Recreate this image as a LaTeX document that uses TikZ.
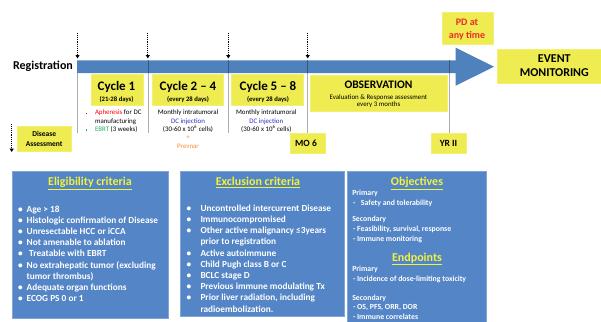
\documentclass[tikz,border=0pt]{standalone}
\usepackage{fontspec}
\setmainfont{Carlito}
\usetikzlibrary{arrows.meta}
\definecolor{barblue}{RGB}{79,129,189}
\definecolor{panelblue}{RGB}{84,133,198}
\definecolor{paneledge}{RGB}{130,165,215}
\definecolor{yel}{RGB}{238,236,80}
\definecolor{titleyel}{RGB}{242,242,60}
\definecolor{pdred}{RGB}{240,40,40}
\definecolor{dcblue}{RGB}{45,45,200}
\definecolor{ebrtgreen}{RGB}{40,175,90}
\definecolor{prevorange}{RGB}{245,140,60}
\newcommand\fs[2]{\fontsize{#1}{#2}\selectfont}
\newcommand\mytab[2]{\begin{tabular}[t]{@{}#1@{}}#2\end{tabular}}
\newcommand\bla{\makebox[8.7pt][l]{•}}
\newcommand\blb{\makebox[14pt][l]{•}}
\newcommand\sqb[1]{\textcolor{#1}{\rule[0.6pt]{1.6pt}{1.6pt}}}
\begin{document}
\begin{tikzpicture}[x=1pt,y=-1pt,
  ybox/.style={fill=yel, draw=yel!80!white, line width=0.4pt, inner sep=0pt, outer sep=0pt, anchor=north west},
  pbox/.style={fill=panelblue, draw=paneledge, line width=0.7pt, inner sep=0pt, outer sep=0pt, anchor=north west},
  txt/.style={inner sep=0pt, outer sep=0pt, anchor=base},
  dotarrow/.style={densely dotted, line width=0.9pt, -{Triangle[length=3.5pt,width=4pt]}},
  vline/.style={draw=black, draw opacity=0.32, line width=0.6pt},
  ttl/.style={txt, text=titleyel, font=\bfseries\fs{12}{14}},
  ptxt/.style={txt, anchor=base west, text=white, font=\bfseries\fs{7.8}{9.7}}
  ]
\clip (0,0) rectangle (601,321);
\fill[white] (0,0) rectangle (601,321);

% timeline bar with arrow head
\fill[barblue] (77,60.3) -- (455.7,60.3) -- (455.7,47.7) -- (494,66.7) -- (455.7,85.7) -- (455.7,73) -- (77,73) -- cycle;

% yellow boxes
\node[ybox, minimum width=52pt, minimum height=31pt] (c1box) at (91,74) {};
\node[ybox, minimum width=71pt, minimum height=31pt] (c2box) at (152,74) {};
\node[ybox, minimum width=72pt, minimum height=31pt] (c5box) at (231,74) {};
\node[ybox, minimum width=137pt, minimum height=36pt] (obsbox) at (310,75) {};
\node[ybox, minimum width=35pt, minimum height=20pt] (mo6) at (290,133) {};
\node[ybox, minimum width=35pt, minimum height=20pt] (yr2) at (431,133) {};
\node[ybox, minimum width=51pt, minimum height=32pt] (pdbox) at (441.7,12.3) {};
\node[ybox, minimum width=110pt, minimum height=34pt] (evbox) at (497,49) {};
\node[ybox, minimum width=54pt, minimum height=25pt] (disbox) at (17.3,125.7) {};

% vertical guide lines
\coordinate (g1a) at (77.5,73); \coordinate (g1b) at (77.5,133);
\coordinate (g2a) at (147.8,60.3); \coordinate (g2b) at (147.8,133);
\coordinate (g3a) at (228.3,60.3); \coordinate (g3b) at (228.3,133);
\coordinate (g4a) at (307.7,60.3);
\coordinate (g5a) at (449,60.3);
\draw[vline] (g1a) -- (g1b);
\draw[vline] (g2a) -- (g2b);
\draw[vline] (g3a) -- (g3b);
\draw[vline] (g4a) -- (g4a |- mo6.north);
\draw[vline] (g5a) -- (g5a |- yr2.north);

% dotted arrows
\coordinate (d1a) at (77.5,33); \coordinate (d1b) at (77.5,58.5);
\coordinate (d2a) at (147.8,33); \coordinate (d2b) at (147.8,58.5);
\coordinate (d3a) at (228.3,33); \coordinate (d3b) at (228.3,58.5);
\coordinate (d4a) at (307.7,33); \coordinate (d4b) at (307.7,58.5);
\coordinate (d5a) at (11.7,124); \coordinate (d5b) at (11.7,152);
\draw[dotarrow] (d1a) -- (d1b);
\draw[dotarrow] (d2a) -- (d2b);
\draw[dotarrow] (d3a) -- (d3b);
\draw[dotarrow] (d4a) -- (d4b);
\draw[dotarrow] (d5a) -- (d5b);

% timeline texts
\node[txt, font=\bfseries\fs{12}{14}] (reg) at (43,69.6) {Registration};
\node[txt, font=\bfseries\fs{13}{15}] (c1t) at (116.5,90) {Cycle 1};
\node[txt, font=\bfseries\fs{6.7}{8}] (c1d) at (116.5,101.3) {(21-28 days)};
\node[txt, font=\bfseries\fs{13}{15}] (c2t) at (188,90) {Cycle 2 -- 4};
\node[txt, font=\bfseries\fs{6.7}{8}] (c2d) at (188,101.3) {(every 28 days)};
\node[txt, font=\bfseries\fs{13}{15}] (c5t) at (268,90) {Cycle 5 -- 8};
\node[txt, font=\bfseries\fs{6.7}{8}] (c5d) at (268,101.3) {(every 28 days)};

\node[txt, anchor=base west, font=\fs{6.9}{8.3}] (c1l) at (85.8,114.8)
  {\mytab{l}{\makebox[9.2pt][l]{\sqb{red}}\textcolor{red}{Apheresis} for DC\\
   \makebox[9.2pt][l]{}manufacturing\\
   \makebox[9.2pt][l]{\sqb{ebrtgreen}}\textcolor{ebrtgreen}{EBRT} (3 weeks)}};
\node[txt, font=\fs{6.9}{8.2}] (c2l) at (188,114.8)
  {\mytab{c}{Monthly intratumoral\\ \textcolor{dcblue}{DC injection}\\ (30-60 x 10\textsuperscript{6} cells)\\
   \textcolor{prevorange}{+}\\ \textcolor{prevorange}{Prevnar}}};
\node[txt, font=\fs{6.9}{8.2}] (c5l) at (266.3,114.8)
  {\mytab{c}{Monthly intratumoral\\ \textcolor{dcblue}{DC injection}\\ (30-60 x 10\textsuperscript{6} cells)}};

\node[txt, font=\bfseries\fs{11.5}{13}] (obst) at (378.5,88.5) {OBSERVATION};
\node[txt, font=\fs{6.9}{7}] (obsl) at (378.5,99.4)
  {\mytab{c}{Evaluation \& Response assessment\\ every 3 months}};

\node[txt, font=\bfseries\fs{9.5}{11}] (mo6t) at (306,146) {MO 6};
\node[txt, font=\bfseries\fs{9.5}{11}] (yr2t) at (448.5,146) {YR II};
\node[txt, text=pdred, font=\bfseries\fs{10}{12.7}] (pdt) at (467,25.3) {\mytab{c}{PD at\\ any time}};
\node[txt, font=\bfseries\fs{12}{13.4}] (evt) at (554.3,63) {\mytab{c}{EVENT\\ MONITORING}};
\node[txt, font=\bfseries\fs{7.5}{9.4}] (dist) at (44.2,136.6) {\mytab{c}{Disease\\ Assessment}};

% bottom panels
\node[pbox, minimum width=156pt, minimum height=147.3pt] (elig) at (12,171) {};
\node[pbox, minimum width=164pt, minimum height=145pt] (excl) at (180,171.7) {};
\node[pbox, minimum width=139.4pt, minimum height=160pt] (obj) at (347.3,171.7) {};

\node[ttl] (eligt) at (90,185.6) {\underline{Eligibility criteria}};
\node[txt, anchor=base west, text=white, font=\bfseries\fs{9.3}{11.2}] (eligl) at (18,212)
 {\mytab{l}{\bla Age > 18\\
  \bla Histologic confirmation of Disease\\
  \bla Unresectable HCC or iCCA\\
  \bla Not amenable to ablation\\
  \bla\hspace{2.5pt}Treatable with EBRT\\
  \bla No extrahepatic tumor (excluding\\
  \makebox[8.7pt]{}tumor thrombus)\\
  \bla Adequate organ functions\\
  \bla ECOG PS 0 or 1}};

\node[ttl] (exclt) at (258,185.6) {\underline{Exclusion criteria}};
\node[txt, anchor=base west, text=white, font=\bfseries\fs{9.3}{11.2}] (excll) at (186.5,211.2)
 {\mytab{l}{\blb Uncontrolled intercurrent Disease\\
  \blb Immunocompromised\\
  \blb Other active malignancy ≤3years\\
  \makebox[14pt]{}prior to registration\\
  \blb Active autoimmune\\
  \blb Child Pugh class B or C\\
  \blb BCLC stage D\\
  \blb Previous immune modulating Tx\\
  \blb Prior liver radiation, including\\
  \makebox[14pt]{}radioembolization.}};

\node[ttl] (objt) at (417,185.6) {\underline{Objectives}};
\node[ttl] (endt) at (417,261) {\underline{Endpoints}};
\foreach \i/\xx/\yy/\t in {
  1/352.3/195.7/Primary,
  2/353/205.1/{-\hspace{5.6pt}Safety and tolerability},
  3/352.3/221.7/Secondary,
  4/353/231.1/{- Feasibility, survival, response},
  5/353/241.1/{- Immune monitoring},
  6/352.3/271.4/Primary,
  7/353/281.1/{- Incidence of dose-limiting toxicity},
  8/352.3/300.1/Secondary,
  9/353/309.7/{- OS, PFS, ORR, DOR},
  10/353/319.4/{- Immune correlates}}
  \node[ptxt] (ob\i) at (\xx,\yy) {\t};
\end{tikzpicture}
\end{document}
